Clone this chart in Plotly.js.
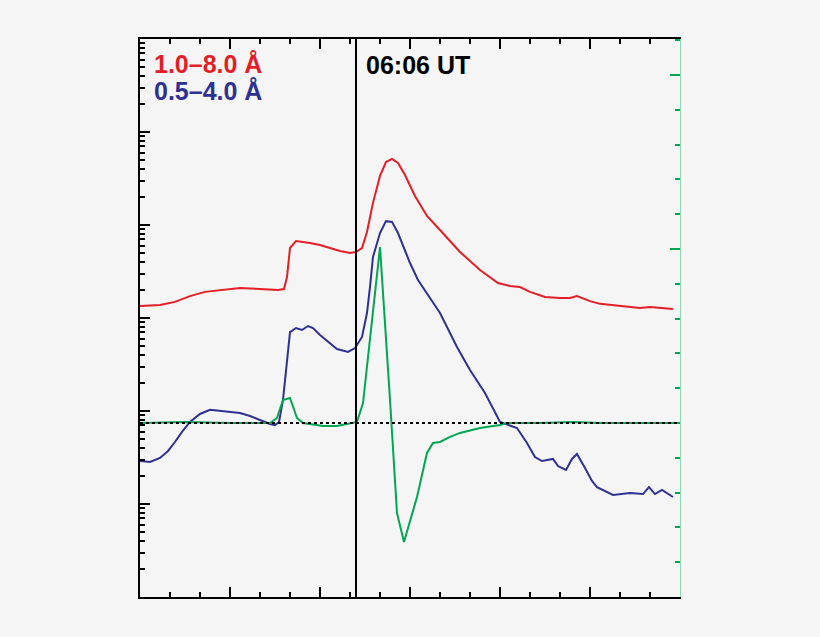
<!DOCTYPE html>
<html>
<head>
<meta charset="utf-8">
<script src="https://cdn.plot.ly/plotly-3.0.1.min.js"></script>
<style>
  html, body { margin: 0; padding: 0; background: #f5f5f5; }
  #chart { width: 820px; height: 637px; }
</style>
</head>
<body>
<div id="chart"></div>
<script>
// minutes after 05:30 UT
var redMin = [0, 3.33, 5.83, 8.33, 10.83, 13.33, 16.67, 20, 23, 24, 24.5, 25, 26, 28.33, 30, 31.67,
  33.33, 35, 36, 37, 37.83, 38.83, 40, 41, 42, 43, 44.17, 45.83, 47.83, 50, 53.33, 56.67, 59.67,
  61.67, 63.33, 65, 67.5, 70, 71.67, 72.83, 75, 76.67, 80, 83.33, 85, 86.67, 88.83];
var redFlux = [1.35e-6, 1.38e-6, 1.49e-6, 1.72e-6, 1.91e-6, 2.00e-6, 2.10e-6, 2.05e-6, 2.00e-6, 2.05e-6,
  2.76e-6, 5.66e-6, 6.73e-6, 6.40e-6, 6.09e-6, 5.66e-6, 5.25e-6, 5.00e-6, 5.13e-6, 5.66e-6, 8.41e-6,
  1.73e-5, 3.37e-5, 4.75e-5, 5.13e-5, 4.65e-5, 3.45e-5, 2.05e-5, 1.25e-5, 8.84e-6, 5.13e-6, 3.28e-6,
  2.38e-6, 2.21e-6, 2.15e-6, 1.91e-6, 1.68e-6, 1.64e-6, 1.64e-6, 1.72e-6, 1.52e-6, 1.42e-6, 1.35e-6,
  1.28e-6, 1.31e-6, 1.28e-6, 1.25e-6];

var blueMin = [0, 1.67, 3.33, 4.67, 5.83, 7, 8.33, 10, 11.67, 13.33, 16.67, 18.33, 20, 21.67, 22.5,
  23.17, 23.83, 24.33, 25, 26, 27, 28, 28.83, 30, 31.67, 32.83, 34.67, 35.83, 37, 37.83, 38.33, 38.83,
  40, 41, 42, 43, 45, 46.33, 50, 52.83, 55, 57.5, 60, 62.83, 64.5, 65.83, 67, 68.83, 69.67, 71, 72,
  72.83, 74.17, 75.33, 76.17, 78.83, 81.67, 83.83, 84.83, 85.83, 87, 88.83];
var blueFlux = [2.90e-8, 2.83e-8, 3.13e-8, 3.72e-8, 4.64e-8, 5.95e-8, 7.62e-8, 9.29e-8, 1.03e-7, 1.00e-7,
  9.51e-8, 8.83e-8, 8.00e-8, 7.24e-8, 7.06e-8, 7.62e-8, 1.31e-7, 2.76e-7, 7.06e-7, 7.80e-7, 7.43e-7,
  8.20e-7, 7.80e-7, 6.56e-7, 5.38e-7, 4.64e-7, 4.31e-7, 4.75e-7, 6.25e-7, 1.13e-6, 2.15e-6, 4.53e-6,
  8.20e-6, 1.10e-5, 1.08e-5, 8.20e-6, 3.90e-6, 2.56e-6, 1.13e-6, 4.87e-7, 2.76e-7, 1.56e-7, 7.62e-8,
  6.56e-8, 4.53e-8, 3.20e-8, 2.90e-8, 3.05e-8, 2.56e-8, 2.32e-8, 3.05e-8, 3.45e-8, 2.44e-8, 1.77e-8,
  1.52e-8, 1.25e-8, 1.31e-8, 1.28e-8, 1.52e-8, 1.28e-8, 1.42e-8, 1.19e-8];

var greenMin = [0, 7.83, 15, 21.67, 22.83, 23.83, 25, 26.17, 27.17, 30.5, 32.83, 36.17, 37.17, 40,
  41.67, 42.83, 44, 46.17, 47.83, 48.83, 50, 51.67, 53.33, 56.67, 60, 61.17, 66.67, 72.17, 76.67,
  83.33, 89.17];
var greenVal = [0, 0.006, 0, 0, 0.029, 0.132, 0.144, 0.029, 0, -0.017, -0.017, 0.006, 0.115, 1.011,
  0.132, -0.517, -0.684, -0.425, -0.172, -0.115, -0.109, -0.080, -0.057, -0.029, -0.011, 0, 0, 0.006,
  0, 0, 0];

var redLabel = '1.0\u20138.0 \u00C5';
var blueLabel = '0.5\u20134.0 \u00C5';
var markLabel = '06:06 UT';
var markMin = 36;

var RED = '#e31e26', BLUE = '#2e3192', GREEN = '#00a651';

// log minor ticks 2..9 per decade
var minorLog = [];
for (var d = -9; d < -3; d++) {
  for (var k = 2; k <= 9; k++) minorLog.push(k * Math.pow(10, d));
}

var traces = [
  {x: redMin, y: redFlux, type: 'scatter', mode: 'lines', line: {color: RED, width: 2}, yaxis: 'y'},
  {x: blueMin, y: blueFlux, type: 'scatter', mode: 'lines', line: {color: BLUE, width: 2}, yaxis: 'y'},
  {x: greenMin, y: greenVal, type: 'scatter', mode: 'lines', line: {color: GREEN, width: 2}, yaxis: 'y2'}
];

var layout = {
  width: 820, height: 637,
  margin: {l: 140, r: 140, t: 39, b: 40},
  paper_bgcolor: '#f5f5f5', plot_bgcolor: '#f5f5f5',
  showlegend: false,
  font: {family: 'Liberation Sans, Arial, sans-serif'},
  xaxis: {
    range: [0, 90], tick0: 0, dtick: 15, ticks: 'inside', ticklen: 10, tickwidth: 2, tickcolor: '#000',
    showticklabels: false, showgrid: false, zeroline: false,
    showline: true, linecolor: '#000', linewidth: 2, mirror: 'ticks',
    minor: {dtick: 5, ticks: 'inside', ticklen: 5, tickwidth: 2, tickcolor: '#000', showgrid: false}
  },
  yaxis: {
    type: 'log', range: [-9, -3], dtick: 1, ticks: 'inside', ticklen: 10, tickwidth: 2, tickcolor: '#000',
    showticklabels: false, showgrid: false, zeroline: false,
    showline: true, linecolor: '#000', linewidth: 2,
    minor: {tickvals: minorLog, ticks: 'inside', ticklen: 5, tickwidth: 2, tickcolor: '#000', showgrid: false}
  },
  yaxis2: {
    overlaying: 'y', side: 'right', range: [-1, 2.207], tick0: 0, dtick: 1,
    ticks: 'inside', ticklen: 10, tickwidth: 2, tickcolor: GREEN,
    showticklabels: false, showgrid: false, zeroline: false,
    showline: true, linecolor: '#8fd6ad', linewidth: 1,
    minor: {dtick: 0.2, ticks: 'inside', ticklen: 5, tickwidth: 2, tickcolor: GREEN, showgrid: false}
  },
  shapes: [
    {type: 'line', xref: 'paper', x0: 0, x1: 1, yref: 'y2', y0: 0, y1: 0,
     line: {color: '#000', width: 2, dash: 'dot'}, layer: 'above'},
    {type: 'line', xref: 'x', x0: markMin, x1: markMin, yref: 'paper', y0: 0, y1: 1,
     line: {color: '#000', width: 2}, layer: 'above'}
  ],
  annotations: [
    {text: redLabel, xref: 'paper', yref: 'paper', x: 0.023, y: 0.955, xanchor: 'left', yanchor: 'middle',
     showarrow: false, font: {size: 25, color: RED, weight: 'bold'}},
    {text: blueLabel, xref: 'paper', yref: 'paper', x: 0.023, y: 0.907, xanchor: 'left', yanchor: 'middle',
     showarrow: false, font: {size: 25, color: BLUE, weight: 'bold'}},
    {text: markLabel, xref: 'paper', yref: 'paper', x: 0.414, y: 0.953, xanchor: 'left', yanchor: 'middle',
     showarrow: false, font: {size: 25, color: '#000', weight: 'bold'}}
  ]
};

Plotly.newPlot('chart', traces, layout, {staticPlot: true});
</script>
</body>
</html>
